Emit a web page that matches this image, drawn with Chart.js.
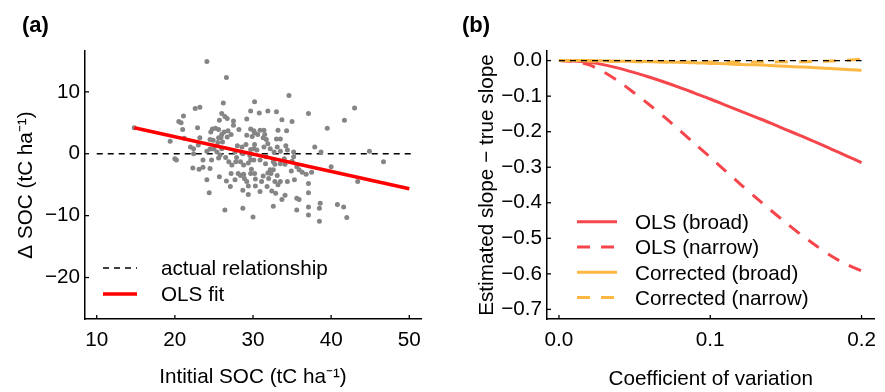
<!DOCTYPE html>
<html>
<head>
<meta charset="utf-8">
<script src="https://cdn.jsdelivr.net/npm/chart.js@4.4.1/dist/chart.umd.min.js"></script>
<style>
  body { margin: 0; background: #fff; }
  .panel { position: absolute; top: 0; height: 392px; }
  #boxA { left: 0; width: 440px; }
  #boxB { left: 440px; width: 445px; }
  .tag { position: absolute; top: 12px; line-height: 25px; font: bold 22px "Liberation Sans", Arial, sans-serif; }
</style>
</head>
<body>
<div class="panel" id="boxA"><canvas id="chartA"></canvas></div>
<div class="panel" id="boxB"><canvas id="chartB"></canvas></div>
<div class="tag" style="left:22px">(a)</div>
<div class="tag" style="left:462px">(b)</div>
<script>
// panel (a): simulated plots, initial SOC vs change in SOC
const socInitial = [
  14.8, 24.1, 26.6, 34.6, 30.2, 26.2, 22.6, 23.2, 21.1, 20.5, 20.8, 21.0, 22.9,
  26.0, 26.4, 26.7, 25.7, 27.5, 27.5, 24.8, 25.2, 25.6, 24.6, 26.3, 26.8, 28.2,
  29.7, 29.2, 29.7, 30.8, 31.9, 33.0, 33.7, 35.0, 33.2, 34.3, 30.1, 30.9, 31.4,
  29.2, 27.2, 25.6, 25.9, 23.2, 21.2, 19.4, 22.0, 22.4, 23.0, 24.5, 25.0, 25.4,
  27.7, 28.6, 29.7, 30.5, 31.4, 32.2, 33.5, 34.4, 35.2, 20.0, 20.2, 23.6, 24.7,
  25.6, 26.5, 26.9, 27.9, 28.4, 29.7, 30.1, 30.9, 31.6, 32.6, 33.5, 22.3, 23.1,
  23.6, 24.5, 25.7, 27.2, 28.1, 28.4, 28.8, 29.7, 30.2, 31.3, 31.9, 32.6, 33.1,
  34.9, 35.9, 24.1, 26.6, 27.7, 28.9, 29.2, 30.3, 31.1, 32.0, 32.8, 33.2, 34.4,
  24.4, 27.1, 28.7, 29.4, 30.9, 31.8, 32.9, 34.1, 35.6, 26.4, 28.7, 30.0, 32.6,
  35.6, 28.0, 29.1, 30.2, 31.9, 33.1, 34.2, 33.0, 33.5, 31.3, 31.7, 29.9, 30.6,
  31.5, 30.2, 26.0, 26.7, 24.5, 24.9, 25.5, 26.1, 24.1, 26.0, 30.1, 32.7, 22.4,
  25.8, 28.7, 29.6, 31.7, 35.2, 34.0, 35.0, 27.8, 29.4, 32.8, 34.1, 27.3, 28.8,
  35.6, 29.8, 32.2, 32.3, 35.3, 33.5, 30.3, 29.4, 32.4, 33.7, 35.9,
  37.1, 43.0, 41.7, 39.5, 37.9, 38.7, 44.9, 46.7, 40.0, 36.3, 36.8, 37.5, 43.4,
  37.1, 37.1, 38.6, 40.8, 41.6, 37.1, 38.5, 37.1, 42.0, 38.5
];
const socChange = [
  4.2, 14.9, 12.3, 9.4, 8.4, 8.2, 7.3, 7.5, 6.1, 5.2, 5.0, 3.9, 4.2,
  6.5, 6.0, 5.7, 5.4, 5.3, 4.6, 4.0, 4.1, 3.9, 3.5, 3.5, 3.7, 3.9,
  4.0, 5.6, 6.9, 6.6, 6.9, 6.8, 5.5, 5.2, 3.8, 3.7, 3.7, 3.8, 3.8,
  3.0, 3.1, 2.6, 2.6, 2.6, 2.5, 2.0, 1.1, 0.8, 1.4, 0.75, 0.75, 0.3,
  0.3, 1.1, 0.7, 0.6, 1.1, 0.8, 0.4, 0.6, 0.3, -0.8, -1.0, -1.0, -1.0,
  -0.7, -0.6, -1.3, -0.6, -1.3, -1.0, -1.0, -1.0, -1.6, -1.3, -1.6, -2.3, -2.5,
  -2.2, -2.4, -3.7, -3.2, -3.2, -3.5, -3.3, -3.2, -3.2, -3.6, -3.1, -2.6, -3.5,
  -2.8, -2.6, -4.2, -4.4, -4.2, -4.0, -4.5, -4.1, -4.5, -4.0, -4.5, -5.0, -4.5,
  -6.3, -5.3, -5.9, -6.6, -6.1, -5.3, -6.4, -6.7, -7.2, -9.1, -8.8, -10.2, -8.5,
  -9.1, 1.3, 1.5, 1.5, 1.6, 1.1, 1.3, 2.4, 2.4, 2.6, 2.3, 2.8, 3.1,
  3.1, 3.4, 3.1, 2.7, 2.3, 2.2, 1.8, 1.9, 0.4, 0.8, 0.8, 0.3, 0.0,
  -0.2, 0.0, -0.3, -0.5, -0.5, -0.8, -1.2, -1.3, -1.5, -1.7, -1.7, -1.8, -1.8,
  -2.1, -2.5, -2.6, -3.2, -4.2, -4.5, -5.2, -5.2, -6.0, -7.4, -7.4,
  6.5, 7.4, 5.4, 4.1, 1.1, 0.3, 0.4, -1.3, -2.1, -3.0, -3.3, -3.0, -4.5,
  -4.8, -6.3, -8.0, -8.2, -8.6, -8.6, -8.8, -9.9, -10.3, -10.9
];
const olsFitX = [14.8, 50];
const olsFitY = [4.2, -5.65];
const actualX = [10, 50.6];
const actualY = [0, 0];
const aTicksX = [10, 20, 30, 40, 50];
const aTicksY = [-20, -10, 0, 10];

// panel (b): bias of slope estimate against coefficient of variation
const coefVar = [0, 0.01, 0.02, 0.03, 0.04, 0.05, 0.06, 0.07, 0.08, 0.09, 0.10,
                 0.11, 0.12, 0.13, 0.14, 0.15, 0.16, 0.17, 0.18, 0.19, 0.20];
const olsBroad = [0, -0.001, -0.005, -0.012, -0.022, -0.034, -0.047, -0.061, -0.076, -0.092, -0.108,
                  -0.125, -0.142, -0.159, -0.176, -0.194, -0.212, -0.230, -0.249, -0.268, -0.287];
const olsNarrow = [0, -0.002, -0.012, -0.033, -0.060, -0.092, -0.125, -0.160, -0.197, -0.235, -0.272,
                   -0.310, -0.348, -0.385, -0.421, -0.456, -0.490, -0.521, -0.550, -0.573, -0.592];
const corrBroad = [0, 0, 0, -0.001, -0.002, -0.002, -0.003, -0.004, -0.005, -0.006, -0.008,
                   -0.009, -0.011, -0.012, -0.014, -0.016, -0.018, -0.020, -0.022, -0.025, -0.027];
const corrNarrow = [0, 0, -0.001, -0.002, -0.002, -0.003, -0.003, -0.004, -0.004, -0.004, -0.004,
                    -0.004, -0.004, -0.004, -0.004, -0.003, -0.003, -0.002, -0.001, 0.001, 0.004];
const zeroX = [0, 0.2];
const zeroY = [0, 0];
const bTicksX = [0, 0.1, 0.2];
const bTicksY = [-0.7, -0.6, -0.5, -0.4, -0.3, -0.2, -0.1, 0];

const FONT = '"Liberation Sans", Arial, sans-serif';
const FSIZE = 20.7;
const font20 = { family: FONT, size: FSIZE };
const RED_B = '#f5464b';
const ORANGE = '#fdb844';

const pts = (xs, ys) => xs.map((x, i) => ({ x: x, y: ys[i] }));
const minus = s => String(s).replace('-', '\u2212');

// inward tick marks (R style)
const inwardTicks = {
  id: 'inwardTicks',
  afterDraw(chart) {
    const { ctx, chartArea } = chart;
    const xs = chart.scales.x, ys = chart.scales.y;
    ctx.save();
    ctx.strokeStyle = '#000';
    ctx.lineWidth = 1.3;
    xs.ticks.forEach(t => {
      const p = xs.getPixelForValue(t.value);
      ctx.beginPath(); ctx.moveTo(p, chartArea.bottom); ctx.lineTo(p, chartArea.bottom - 4); ctx.stroke();
    });
    ys.ticks.forEach(t => {
      const p = ys.getPixelForValue(t.value);
      ctx.beginPath(); ctx.moveTo(chartArea.left, p); ctx.lineTo(chartArea.left + 4, p); ctx.stroke();
    });
    ctx.restore();
  }
};

// legend drawn inside the plot like the original
const panelLegend = {
  id: 'panelLegend',
  afterDraw(chart, args, opts) {
    const ctx = chart.ctx;
    ctx.save();
    ctx.font = FSIZE + 'px ' + FONT;
    ctx.textBaseline = 'middle';
    opts.items.forEach((idx, i) => {
      const ds = chart.data.datasets[idx];
      const y = opts.y + i * opts.gap;
      ctx.strokeStyle = ds.borderColor;
      ctx.lineWidth = ds.borderWidth;
      ctx.setLineDash(ds.borderDash || []);
      ctx.beginPath(); ctx.moveTo(opts.x0, y); ctx.lineTo(opts.x1, y); ctx.stroke();
      ctx.setLineDash([]);
      ctx.fillStyle = '#000';
      ctx.fillText(ds.label, opts.textX, y + 1.5);
    });
    ctx.restore();
  }
};

function axis(min, max, tickVals, fmt, title, opts) {
  return {
    type: 'linear', min: min, max: max,
    grid: { display: false, drawTicks: false },
    border: { display: true, color: '#000', width: 1.5 },
    afterBuildTicks: s => { s.ticks = tickVals.map(v => ({ value: v })); },
    ticks: { font: font20, color: '#000', padding: opts.tickPad, maxRotation: 0, autoSkip: false, callback: fmt },
    title: { display: true, text: title, font: font20, color: '#000', padding: opts.titlePad },
    afterFit: opts.fit
  };
}

new Chart(document.getElementById('chartA'), {
  type: 'scatter',
  data: {
    datasets: [
      { label: 'OLS fit', type: 'line', data: pts(olsFitX, olsFitY), borderColor: '#ff0000', borderWidth: 3.5, pointRadius: 0, order: 0 },
      { label: 'points', data: pts(socInitial, socChange), backgroundColor: '#858585', borderWidth: 0, pointRadius: 2.5, order: 1 },
      { label: 'actual relationship', type: 'line', data: pts(actualX, actualY), borderColor: '#000', borderWidth: 1.5, borderDash: [6, 5], pointRadius: 0, order: 2 }
    ]
  },
  options: {
    responsive: true,
    maintainAspectRatio: false,
    animation: false,
    layout: { padding: { top: 51, right: 19, left: 0, bottom: 0 } },
    plugins: {
      legend: { display: false },
      tooltip: { enabled: false },
      panelLegend: { items: [2, 0], x0: 103, x1: 137, textX: 161, y: 268, gap: 26 }
    },
    scales: {
      x: axis(8.5, 51.5, aTicksX, v => v, 'Intitial SOC (tC ha\u207B\u00B9)',
        { tickPad: 9, titlePad: { top: 0, bottom: 2 }, fit: s => { s.height = 73; } }),
      y: axis(-26.7, 16.6, aTicksY, v => minus(v), '\u0394 SOC (tC ha\u207B\u00B9)',
        { tickPad: 5, titlePad: { top: 14, bottom: 0 }, fit: s => { s.width = 85; } })
    }
  },
  plugins: [inwardTicks, panelLegend]
});

new Chart(document.getElementById('chartB'), {
  type: 'line',
  data: {
    datasets: [
      { label: 'reference', data: pts(zeroX, zeroY), borderColor: '#000', borderWidth: 1.3, borderDash: [6, 5], pointRadius: 0, order: 0 },
      { label: 'OLS (broad)', data: pts(coefVar, olsBroad), borderColor: RED_B, borderWidth: 3, pointRadius: 0, tension: 0.3, order: 3 },
      { label: 'OLS (narrow)', data: pts(coefVar, olsNarrow), borderColor: RED_B, borderWidth: 3, borderDash: [13, 11], pointRadius: 0, tension: 0.3, order: 4 },
      { label: 'Corrected (broad)', data: pts(coefVar, corrBroad), borderColor: ORANGE, borderWidth: 3, pointRadius: 0, tension: 0.3, order: 2 },
      { label: 'Corrected (narrow)', data: pts(coefVar, corrNarrow), borderColor: ORANGE, borderWidth: 3, borderDash: [13, 11], pointRadius: 0, tension: 0.3, order: 1 }
    ]
  },
  options: {
    responsive: true,
    maintainAspectRatio: false,
    animation: false,
    layout: { padding: { top: 51, right: 2, left: 0, bottom: 0 } },
    plugins: {
      legend: { display: false },
      tooltip: { enabled: false },
      panelLegend: { items: [1, 2, 3, 4], x0: 137, x1: 177, textX: 195, y: 221.7, gap: 25.3 }
    },
    scales: {
      x: axis(-0.0079, 0.2086, bTicksX, v => v.toFixed(1), 'Coefficient of variation',
        { tickPad: 9, titlePad: { top: 0, bottom: 0 }, fit: s => { s.height = 73; } }),
      y: axis(-0.727, 0.027, bTicksY, v => minus(v.toFixed(1)), 'Estimated slope \u2212 true slope',
        { tickPad: 5, titlePad: { top: 34.5, bottom: 0 }, fit: s => { s.width = 107; } })
    }
  },
  plugins: [inwardTicks, panelLegend]
});
</script>
</body>
</html>
